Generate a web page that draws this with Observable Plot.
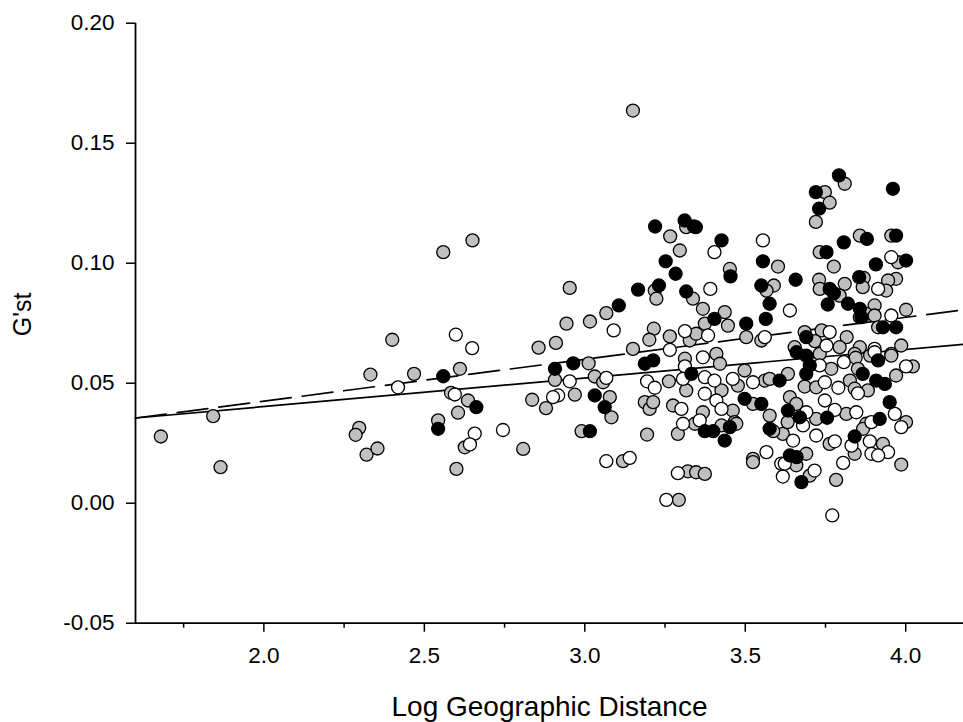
<!DOCTYPE html>
<html><head><meta charset="utf-8">
<script src="https://cdn.jsdelivr.net/npm/d3@7"></script>
<script src="https://cdn.jsdelivr.net/npm/@observablehq/plot@0.6"></script>
<style>html,body{margin:0;padding:0;background:#fff}#chart svg{display:block}</style>
</head><body><div id="chart"></div>
<script>
// Axis settings
const xDomain = [1.6, 4.18];
const yDomain = [-0.05, 0.20];
const xMajorTicks = [2.0, 2.5, 3.0, 3.5, 4.0];
const xMinorTicks = [1.75, 2.25, 2.75, 3.25, 3.75];
const yTicks = [-0.05, 0.00, 0.05, 0.10, 0.15, 0.20];
const xTitle = "Log Geographic Distance";
const yTitle = "G'st";

// Regression lines (endpoints at the axis limits)
const lineX = [1.6, 4.18];
const solidY = [0.0355, 0.0662];
const dashedY = [0.0355, 0.0806];

// Grey points [log distance, G'st]
const grayPts = [
[1.679,0.0278],[1.842,0.0363],[1.865,0.0150],[2.297,0.0314],[2.286,0.0285],[2.320,0.0202],[2.354,0.0228],
[2.332,0.0536],[2.400,0.0681],[2.468,0.0539],[2.559,0.1046],[2.650,0.1095],[2.543,0.0345],[2.611,0.0560],
[2.583,0.0460],[2.636,0.0428],[2.605,0.0377],[2.626,0.0233],[2.600,0.0143],[2.953,0.0897],[2.943,0.0748],
[3.016,0.0757],[2.856,0.0648],[2.910,0.0668],[3.012,0.0583],[2.907,0.0514],[3.031,0.0528],[2.969,0.0452],
[2.836,0.0431],[2.879,0.0396],[2.808,0.0226],[2.990,0.0300],[3.150,0.1636],[3.266,0.1112],[3.296,0.1053],
[3.316,0.1150],[3.218,0.0886],[3.223,0.0852],[3.067,0.0792],[3.215,0.0727],[3.201,0.0681],[3.265,0.0695],
[3.327,0.0678],[3.150,0.0643],[3.312,0.0602],[3.057,0.0504],[3.262,0.0508],[3.316,0.0470],[3.078,0.0442],
[3.083,0.0358],[3.187,0.0421],[3.202,0.0393],[3.213,0.0421],[3.275,0.0407],[3.194,0.0286],[3.290,0.0289],
[3.119,0.0175],[3.321,0.0133],[3.293,0.0014],[3.347,0.0129],[3.602,0.0986],[3.452,0.0976],[3.589,0.0907],
[3.566,0.0886],[3.337,0.0852],[3.368,0.0810],[3.436,0.0796],[3.446,0.0740],[3.374,0.0748],[3.503,0.0692],
[3.550,0.0678],[3.347,0.0706],[3.410,0.0622],[3.421,0.0581],[3.477,0.0490],[3.498,0.0553],[3.561,0.0511],
[3.576,0.0518],[3.426,0.0470],[3.524,0.0414],[3.461,0.0386],[3.368,0.0379],[3.343,0.0331],[3.576,0.0365],
[3.467,0.0338],[3.426,0.0324],[3.472,0.0331],[3.617,0.0289],[3.632,0.0338],[3.524,0.0185],[3.524,0.0171],
[3.374,0.0122],[3.720,0.1172],[3.857,0.1115],[3.955,0.1115],[3.732,0.1046],[3.976,0.1004],[3.776,0.0986],
[3.730,0.0931],[3.869,0.0939],[3.970,0.0935],[3.945,0.0928],[3.810,0.0914],[3.732,0.0893],[3.866,0.0900],
[3.939,0.0886],[3.794,0.0865],[3.903,0.0824],[4.001,0.0806],[3.877,0.0789],[3.903,0.0782],[3.685,0.0713],
[3.738,0.0720],[3.816,0.0692],[3.914,0.0733],[3.986,0.0657],[3.794,0.0650],[3.717,0.0675],[3.857,0.0650],
[3.654,0.0650],[3.732,0.0622],[3.841,0.0622],[3.955,0.0622],[3.810,0.1331],[3.748,0.1296],[3.763,0.1252],
[3.633,0.0539],[3.768,0.0560],[3.844,0.0606],[3.851,0.0560],[3.889,0.0615],[3.955,0.0615],[4.022,0.0570],
[3.970,0.0532],[3.826,0.0511],[3.841,0.0477],[3.882,0.0470],[3.685,0.0486],[3.721,0.0483],[3.639,0.0442],
[3.659,0.0414],[3.721,0.0351],[3.815,0.0372],[3.877,0.0331],[4.001,0.0338],[3.587,0.0300],[3.763,0.0247],
[3.867,0.0310],[3.929,0.0247],[3.841,0.0206],[3.690,0.0206],[3.659,0.0158],[3.986,0.0161],[3.701,0.0115],
[3.783,0.0097]
];

// Open (white) points
const whitePts = [
[2.598,0.0702],[2.649,0.0646],[2.418,0.0483],[2.595,0.0453],[2.657,0.0290],[2.642,0.0245],[2.953,0.0508],
[2.917,0.0449],[2.901,0.0442],[2.745,0.0305],[3.090,0.0720],[3.312,0.0717],[3.265,0.0639],[3.067,0.0522],
[3.194,0.0508],[3.218,0.0481],[3.312,0.0570],[3.306,0.0518],[3.301,0.0393],[3.306,0.0331],[3.067,0.0175],
[3.140,0.0189],[3.290,0.0125],[3.254,0.0014],[3.404,0.1046],[3.555,0.1095],[3.391,0.0893],[3.639,0.0803],
[3.561,0.0692],[3.384,0.0699],[3.368,0.0608],[3.374,0.0525],[3.404,0.0511],[3.461,0.0518],[3.524,0.0504],
[3.374,0.0456],[3.410,0.0428],[3.426,0.0393],[3.358,0.0345],[3.566,0.0213],[3.617,0.0111],[3.612,0.0165],
[3.955,0.1025],[3.914,0.0893],[3.857,0.0775],[3.955,0.0782],[3.763,0.0713],[3.903,0.0643],[3.753,0.0657],
[3.732,0.0574],[3.807,0.0588],[3.903,0.0629],[4.001,0.0570],[3.851,0.0458],[3.790,0.0481],[3.748,0.0504],
[3.748,0.0428],[3.690,0.0379],[3.779,0.0389],[3.846,0.0379],[3.966,0.0372],[3.893,0.0338],[3.986,0.0317],
[3.680,0.0324],[3.721,0.0282],[3.649,0.0261],[3.779,0.0258],[3.888,0.0258],[3.945,0.0213],[3.893,0.0206],
[3.914,0.0199],[3.831,0.0240],[3.805,0.0168],[3.623,0.0165],[3.716,0.0136],[3.771,-0.0051]
];

// Filled (black) points
const blackPts = [
[2.559,0.0529],[2.662,0.0400],[2.543,0.0310],[2.907,0.0560],[2.964,0.0583],[3.031,0.0449],[3.016,0.0300],
[3.219,0.1153],[3.311,0.1178],[3.340,0.1153],[3.252,0.1008],[3.283,0.0956],[3.166,0.0890],[3.231,0.0907],
[3.316,0.0882],[3.106,0.0824],[3.187,0.0581],[3.213,0.0595],[3.332,0.0539],[3.062,0.0400],[3.346,0.1150],
[3.426,0.1095],[3.555,0.1008],[3.454,0.0945],[3.550,0.0907],[3.576,0.0831],[3.564,0.0768],[3.404,0.0768],
[3.503,0.0748],[3.498,0.0435],[3.550,0.0414],[3.607,0.0511],[3.374,0.0300],[3.400,0.0300],[3.452,0.0317],
[3.436,0.0261],[3.576,0.0310],[3.879,0.1101],[3.970,0.1115],[3.753,0.1046],[3.807,0.1087],[4.001,0.1011],
[3.907,0.0995],[3.657,0.0931],[3.855,0.0942],[3.763,0.0893],[3.776,0.0875],[3.757,0.0828],[3.820,0.0831],
[3.857,0.0810],[3.862,0.0775],[3.929,0.0733],[3.970,0.0733],[3.690,0.0692],[3.660,0.0629],[3.690,0.0615],
[3.792,0.1366],[3.960,0.1310],[3.720,0.1296],[3.730,0.1227],[3.701,0.0574],[3.690,0.0539],[3.866,0.0539],
[3.914,0.0595],[3.908,0.0511],[3.935,0.0497],[3.950,0.0421],[3.633,0.0386],[3.670,0.0358],[3.755,0.0356],
[3.919,0.0351],[3.841,0.0278],[3.639,0.0199],[3.660,0.0192],[3.675,0.0088]
];

const groupFill = {gray: "#c0c0c0", white: "#ffffff", black: "#000000"};
const toRows = (pts, group) => pts.map(([x, y]) => ({x, y, group}));
const points = [...toRows(grayPts, "gray"), ...toRows(whitePts, "white"), ...toRows(blackPts, "black")];
const solidLine = lineX.map((x, i) => ({x, y: solidY[i]}));
const dashedLine = lineX.map((x, i) => ({x, y: dashedY[i]}));

const chart = Plot.plot({
  width: 963,
  height: 722,
  marginLeft: 135,
  marginRight: 0,
  marginTop: 22.7,
  marginBottom: 99.3,
  style: {fontFamily: "'Liberation Sans', Arial, sans-serif", fontSize: "22.5px", background: "#fff", color: "#000"},
  x: {domain: xDomain, type: "linear"},
  y: {domain: yDomain, type: "linear"},
  marks: [
    Plot.line(solidLine, {x: "x", y: "y", stroke: "#000", strokeWidth: 1.7}),
    Plot.line(dashedLine, {x: "x", y: "y", stroke: "#000", strokeWidth: 1.7, strokeDasharray: "31,11"}),
    Plot.dot(points, {x: "x", y: "y", r: 6.5, fill: d => groupFill[d.group], stroke: "#000", strokeWidth: 1.3}),
    Plot.ruleY([yDomain[0]], {stroke: "#000", strokeWidth: 1.8}),
    Plot.ruleX([xDomain[0]], {stroke: "#000", strokeWidth: 1.8}),
    Plot.axisX({ticks: xMajorTicks, tickSize: 9, tickPadding: 15, tickFormat: d => d.toFixed(1), label: null, strokeWidth: 1.5}),
    Plot.axisX({ticks: xMinorTicks, tickSize: 5, tickFormat: () => "", label: null, strokeWidth: 1.5}),
    Plot.axisY({ticks: yTicks, tickSize: 9, tickPadding: 12, tickFormat: d => d.toFixed(2), label: null, strokeWidth: 1.5}),
    Plot.text([xTitle], {frameAnchor: "bottom", lineAnchor: "middle", dy: 84, fontSize: 28}),
    Plot.text([yTitle], {frameAnchor: "left", lineAnchor: "middle", dx: -113, dy: 13, rotate: -90, fontSize: 25})
  ]
});
document.getElementById("chart").appendChild(chart);
</script>
</body></html>
